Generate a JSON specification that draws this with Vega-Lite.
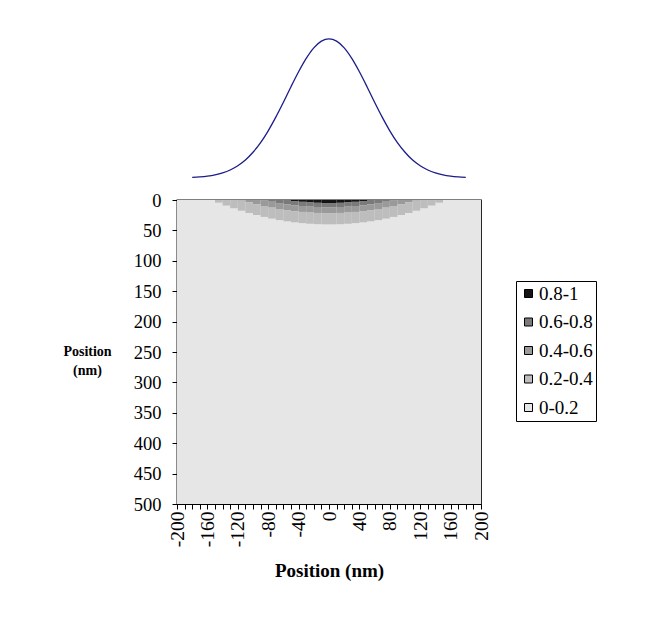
{
  "$schema": "https://vega.github.io/schema/vega-lite/v6.json",
  "padding": {"left": 62, "top": 28, "right": 5, "bottom": 5},
  "background": "white",
  "spacing": 9,
  "config": {
    "font": "Liberation Serif",
    "view": {"stroke": null},
    "axis": {
      "domainColor": "#000", "tickColor": "#000", "labelColor": "#000", "titleColor": "#000",
      "labelFont": "Liberation Serif", "titleFont": "Liberation Serif",
      "labelFontSize": 18.5, "titleFontSize": 19, "titleFontWeight": "bold",
      "grid": false, "tickSize": 5, "domainWidth": 1, "tickWidth": 1
    },
    "legend": {
      "labelFont": "Liberation Serif", "labelFontSize": 19, "labelColor": "#000"
    }
  },
  "vconcat": [
    {
      "width": 304,
      "height": 150,
      "view": {"stroke": null},
      "data": {"values": [
        {"x": -180, "v": 0.0042}, {"x": -170, "v": 0.0076}, {"x": -160, "v": 0.0132}, {"x": -150, "v": 0.0223},
        {"x": -140, "v": 0.0365}, {"x": -130, "v": 0.0575}, {"x": -120, "v": 0.0878}, {"x": -110, "v": 0.129},
        {"x": -100, "v": 0.185}, {"x": -90, "v": 0.254}, {"x": -80, "v": 0.339}, {"x": -70, "v": 0.437},
        {"x": -60, "v": 0.544}, {"x": -50, "v": 0.656}, {"x": -40, "v": 0.763}, {"x": -30, "v": 0.859},
        {"x": -20, "v": 0.935}, {"x": -10, "v": 0.983}, {"x": 0, "v": 1.0}, {"x": 10, "v": 0.983},
        {"x": 20, "v": 0.935}, {"x": 30, "v": 0.859}, {"x": 40, "v": 0.763}, {"x": 50, "v": 0.656},
        {"x": 60, "v": 0.544}, {"x": 70, "v": 0.437}, {"x": 80, "v": 0.339}, {"x": 90, "v": 0.254},
        {"x": 100, "v": 0.185}, {"x": 110, "v": 0.129}, {"x": 120, "v": 0.0878}, {"x": 130, "v": 0.0575},
        {"x": 140, "v": 0.0365}, {"x": 150, "v": 0.0223}, {"x": 160, "v": 0.0132}, {"x": 170, "v": 0.0076},
        {"x": 180, "v": 0.0042}
      ]},
      "mark": {"type": "line", "color": "#1c1c8a", "strokeWidth": 1.3, "interpolate": "monotone"},
      "encoding": {
        "x": {"field": "x", "type": "quantitative", "scale": {"domain": [-200, 200], "nice": false}, "axis": null},
        "y": {"field": "v", "type": "quantitative", "scale": {"domain": [0, 1.0776], "nice": false}, "axis": null}
      }
    },
    {
      "width": 304,
      "height": 304,
      "view": {"stroke": "#000", "strokeWidth": 1.3},
      "data": {"values": [
        {"x": -200, "x2": 200, "y": 0, "y2": 500, "v": "0-0.2"},
        {"x": 0, "x2": 10, "y": 0, "y2": 5, "v": "0.8-1"},
        {"x": 0, "x2": 10, "y": 5, "y2": 11.9, "v": "0.6-0.8"},
        {"x": 0, "x2": 10, "y": 11.9, "y2": 21.6, "v": "0.4-0.6"},
        {"x": 0, "x2": 10, "y": 21.6, "y2": 40, "v": "0.2-0.4"},
        {"x": 10, "x2": 20, "y": 0, "y2": 4.6, "v": "0.8-1"},
        {"x": 10, "x2": 20, "y": 4.6, "y2": 11.5, "v": "0.6-0.8"},
        {"x": 10, "x2": 20, "y": 11.5, "y2": 21.3, "v": "0.4-0.6"},
        {"x": 10, "x2": 20, "y": 21.3, "y2": 39.7, "v": "0.2-0.4"},
        {"x": 20, "x2": 30, "y": 0, "y2": 4, "v": "0.8-1"},
        {"x": 20, "x2": 30, "y": 4, "y2": 10.9, "v": "0.6-0.8"},
        {"x": 20, "x2": 30, "y": 10.9, "y2": 20.6, "v": "0.4-0.6"},
        {"x": 20, "x2": 30, "y": 20.6, "y2": 39, "v": "0.2-0.4"},
        {"x": 30, "x2": 40, "y": 0, "y2": 3, "v": "0.8-1"},
        {"x": 30, "x2": 40, "y": 3, "y2": 9.9, "v": "0.6-0.8"},
        {"x": 30, "x2": 40, "y": 9.9, "y2": 19.6, "v": "0.4-0.6"},
        {"x": 30, "x2": 40, "y": 19.6, "y2": 38, "v": "0.2-0.4"},
        {"x": 40, "x2": 50, "y": 0, "y2": 1.7, "v": "0.8-1"},
        {"x": 40, "x2": 50, "y": 1.7, "y2": 8.6, "v": "0.6-0.8"},
        {"x": 40, "x2": 50, "y": 8.6, "y2": 18.3, "v": "0.4-0.6"},
        {"x": 40, "x2": 50, "y": 18.3, "y2": 36.7, "v": "0.2-0.4"},
        {"x": 50, "x2": 60, "y": 0, "y2": 7, "v": "0.6-0.8"},
        {"x": 50, "x2": 60, "y": 7, "y2": 16.7, "v": "0.4-0.6"},
        {"x": 50, "x2": 60, "y": 16.7, "y2": 35, "v": "0.2-0.4"},
        {"x": 60, "x2": 70, "y": 0, "y2": 5.1, "v": "0.6-0.8"},
        {"x": 60, "x2": 70, "y": 5.1, "y2": 14.8, "v": "0.4-0.6"},
        {"x": 60, "x2": 70, "y": 14.8, "y2": 33, "v": "0.2-0.4"},
        {"x": 70, "x2": 80, "y": 0, "y2": 2.8, "v": "0.6-0.8"},
        {"x": 70, "x2": 80, "y": 2.8, "y2": 12.5, "v": "0.4-0.6"},
        {"x": 70, "x2": 80, "y": 12.5, "y2": 30.5, "v": "0.2-0.4"},
        {"x": 80, "x2": 90, "y": 0, "y2": 1, "v": "0.6-0.8"},
        {"x": 80, "x2": 90, "y": 1, "y2": 9.9, "v": "0.4-0.6"},
        {"x": 80, "x2": 90, "y": 9.9, "y2": 27.8, "v": "0.2-0.4"},
        {"x": 90, "x2": 100, "y": 0, "y2": 7, "v": "0.4-0.6"},
        {"x": 90, "x2": 100, "y": 7, "y2": 24.7, "v": "0.2-0.4"},
        {"x": 100, "x2": 110, "y": 0, "y2": 3.7, "v": "0.4-0.6"},
        {"x": 100, "x2": 110, "y": 3.7, "y2": 21.3, "v": "0.2-0.4"},
        {"x": 110, "x2": 120, "y": 0, "y2": 1, "v": "0.4-0.6"},
        {"x": 110, "x2": 120, "y": 1, "y2": 17.6, "v": "0.2-0.4"},
        {"x": 120, "x2": 130, "y": 0, "y2": 13.5, "v": "0.2-0.4"},
        {"x": 130, "x2": 140, "y": 0, "y2": 9.1, "v": "0.2-0.4"},
        {"x": 140, "x2": 150, "y": 0, "y2": 4.3, "v": "0.2-0.4"},
        {"x": -10, "x2": 0, "y": 0, "y2": 5, "v": "0.8-1"},
        {"x": -10, "x2": 0, "y": 5, "y2": 11.9, "v": "0.6-0.8"},
        {"x": -10, "x2": 0, "y": 11.9, "y2": 21.6, "v": "0.4-0.6"},
        {"x": -10, "x2": 0, "y": 21.6, "y2": 40, "v": "0.2-0.4"},
        {"x": -20, "x2": -10, "y": 0, "y2": 4.6, "v": "0.8-1"},
        {"x": -20, "x2": -10, "y": 4.6, "y2": 11.5, "v": "0.6-0.8"},
        {"x": -20, "x2": -10, "y": 11.5, "y2": 21.3, "v": "0.4-0.6"},
        {"x": -20, "x2": -10, "y": 21.3, "y2": 39.7, "v": "0.2-0.4"},
        {"x": -30, "x2": -20, "y": 0, "y2": 4, "v": "0.8-1"},
        {"x": -30, "x2": -20, "y": 4, "y2": 10.9, "v": "0.6-0.8"},
        {"x": -30, "x2": -20, "y": 10.9, "y2": 20.6, "v": "0.4-0.6"},
        {"x": -30, "x2": -20, "y": 20.6, "y2": 39, "v": "0.2-0.4"},
        {"x": -40, "x2": -30, "y": 0, "y2": 3, "v": "0.8-1"},
        {"x": -40, "x2": -30, "y": 3, "y2": 9.9, "v": "0.6-0.8"},
        {"x": -40, "x2": -30, "y": 9.9, "y2": 19.6, "v": "0.4-0.6"},
        {"x": -40, "x2": -30, "y": 19.6, "y2": 38, "v": "0.2-0.4"},
        {"x": -50, "x2": -40, "y": 0, "y2": 1.7, "v": "0.8-1"},
        {"x": -50, "x2": -40, "y": 1.7, "y2": 8.6, "v": "0.6-0.8"},
        {"x": -50, "x2": -40, "y": 8.6, "y2": 18.3, "v": "0.4-0.6"},
        {"x": -50, "x2": -40, "y": 18.3, "y2": 36.7, "v": "0.2-0.4"},
        {"x": -60, "x2": -50, "y": 0, "y2": 7, "v": "0.6-0.8"},
        {"x": -60, "x2": -50, "y": 7, "y2": 16.7, "v": "0.4-0.6"},
        {"x": -60, "x2": -50, "y": 16.7, "y2": 35, "v": "0.2-0.4"},
        {"x": -70, "x2": -60, "y": 0, "y2": 5.1, "v": "0.6-0.8"},
        {"x": -70, "x2": -60, "y": 5.1, "y2": 14.8, "v": "0.4-0.6"},
        {"x": -70, "x2": -60, "y": 14.8, "y2": 33, "v": "0.2-0.4"},
        {"x": -80, "x2": -70, "y": 0, "y2": 2.8, "v": "0.6-0.8"},
        {"x": -80, "x2": -70, "y": 2.8, "y2": 12.5, "v": "0.4-0.6"},
        {"x": -80, "x2": -70, "y": 12.5, "y2": 30.5, "v": "0.2-0.4"},
        {"x": -90, "x2": -80, "y": 0, "y2": 1, "v": "0.6-0.8"},
        {"x": -90, "x2": -80, "y": 1, "y2": 9.9, "v": "0.4-0.6"},
        {"x": -90, "x2": -80, "y": 9.9, "y2": 27.8, "v": "0.2-0.4"},
        {"x": -100, "x2": -90, "y": 0, "y2": 7, "v": "0.4-0.6"},
        {"x": -100, "x2": -90, "y": 7, "y2": 24.7, "v": "0.2-0.4"},
        {"x": -110, "x2": -100, "y": 0, "y2": 3.7, "v": "0.4-0.6"},
        {"x": -110, "x2": -100, "y": 3.7, "y2": 21.3, "v": "0.2-0.4"},
        {"x": -120, "x2": -110, "y": 0, "y2": 1, "v": "0.4-0.6"},
        {"x": -120, "x2": -110, "y": 1, "y2": 17.6, "v": "0.2-0.4"},
        {"x": -130, "x2": -120, "y": 0, "y2": 13.5, "v": "0.2-0.4"},
        {"x": -140, "x2": -130, "y": 0, "y2": 9.1, "v": "0.2-0.4"},
        {"x": -150, "x2": -140, "y": 0, "y2": 4.3, "v": "0.2-0.4"}
      ]},
      "mark": {"type": "rect"},
      "encoding": {
        "x": {
          "field": "x", "type": "quantitative",
          "scale": {"domain": [-200, 200], "nice": false},
          "title": "Position (nm)",
          "axis": {
            "values": [-200,-190,-180,-170,-160,-150,-140,-130,-120,-110,-100,-90,-80,-70,-60,-50,-40,-30,-20,-10,0,10,20,30,40,50,60,70,80,90,100,110,120,130,140,150,160,170,180,190,200],
            "labelExpr": "datum.value % 40 === 0 ? toString(datum.value) : ''",
            "labelFontSize": 19.5,
            "labelAngle": -90, "labelOverlap": false, "labelPadding": 2, "titlePadding": 15
          }
        },
        "x2": {"field": "x2"},
        "y": {
          "field": "y", "type": "quantitative",
          "scale": {"domain": [0, 500], "reverse": true, "nice": false},
          "axis": {
            "values": [0,50,100,150,200,250,300,350,400,450,500],
            "labelPadding": 11,
            "title": ["Position", "(nm)"],
            "titleFontSize": 14,
            "titleAngle": 0, "titleAlign": "center", "titleBaseline": "top",
            "titleX": -90, "titleY": 144, "titleLineHeight": 19
          }
        },
        "y2": {"field": "y2"},
        "color": {
          "field": "v", "type": "nominal",
          "scale": {
            "domain": ["0.8-1", "0.6-0.8", "0.4-0.6", "0.2-0.4", "0-0.2"],
            "range": ["#141414", "#7a7a7a", "#9a9a9a", "#bdbdbd", "#e6e6e6"]
          },
          "legend": {
            "title": null, "orient": "none", "legendX": 339, "legendY": 253,
            "strokeColor": "#000", "padding": 3, "symbolType": "square", "symbolSize": 64,
            "symbolStrokeColor": "#000", "symbolStrokeWidth": 1, "rowPadding": 8.5, "labelOffset": 1,
            "labelFont": "Liberation Serif", "labelFontSize": 19
          }
        }
      }
    }
  ]
}
